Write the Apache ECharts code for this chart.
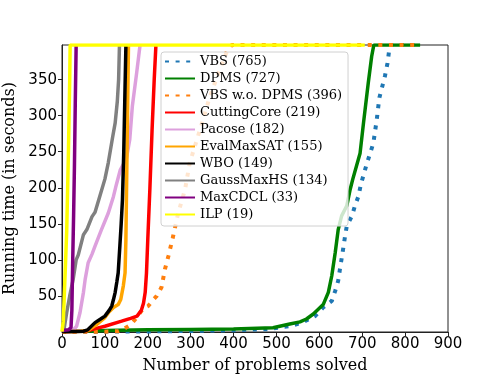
<!DOCTYPE html>
<html>
<head>
<meta charset="utf-8">
<script src="https://cdn.jsdelivr.net/npm/echarts@6/dist/echarts.min.js"></script>
<style>
  html, body { margin: 0; padding: 0; background: #fff; }
  #chart { width: 498px; height: 374px; }
</style>
</head>
<body>
<div id="chart"></div>
<script>
// [problems solved, running time]
const vbs = [[0,0.3],[100,0.5],[250,1],[400,2.5],[480,4],[530,8],[560,13],[590,22],[609,34],[629,43],[637,57],[644,71],[648,87],[652,102],[656,117],[660,133],[664,147],[676,161],[683,175],[691,188],[697,205],[710,232],[726,262],[734,295],[740,325],[753,355],[759,373],[762,387],[765,398],[835,398]]
const dpms = [[0,0.5],[60,1],[100,2],[200,3],[300,3.5],[400,4],[492,6],[531,11],[555,14],[570,18],[586,25],[609,38],[621,55],[629,78],[637,110],[644,142],[652,161],[664,175],[672,198],[678,212],[695,248],[703,290],[714,345],[722,382],[727,398],[835,398]]
const vbsNoDpms = [[0,0.5],[100,0.5],[130,1],[143,4],[160,10],[174,20],[190,33],[201,36],[213,45],[221,50],[232,62],[240,87],[248,105],[258,130],[271,165],[287,198],[298,235],[322,281],[345,327],[368,364],[385,390],[396,398],[835,398]]
const cuttingCore = [[0,0.5],[55,1],[80,5],[100,8],[139,15],[160,19],[175,22],[185,30],[190,40],[194,55],[197,82],[200,128],[205,200],[210,280],[215,350],[219,398]]
const pacose = [[0,0.5],[25,2],[34,8],[42,27],[50,55],[54,73],[61,96],[70,108],[77,119],[92,142],[108,165],[120,188],[127,205],[136,225],[150,240],[158,267],[164,313],[174,359],[182,398]]
const evalMaxSat = [[0,0.5],[45,1],[60,2],[80,10],[100,20],[110,28],[120,34],[131,38],[137,45],[143,64],[147,82],[149,128],[152,267],[155,398]]
const wbo = [[0,0.5],[50,1],[60,3],[77,13],[90,18],[100,22],[110,30],[116,36],[120,45],[124,55],[128,70],[131,82],[135,120],[138,150],[141,184],[144,250],[147,340],[149,398]]
const gaussMaxHs = [[0,1],[5,5],[11,27],[18,50],[26,73],[33,100],[38,107],[50,135],[58,142],[70,160],[77,166],[88,188],[100,212],[108,235],[118,270],[124,290],[129,320],[132,350],[134,398]]
const maxCdcl = [[0,2],[15,3],[21,6],[23,30],[25,100],[27,160],[29,230],[31,320],[33,398]]
const ilp = [[0,0.5],[1,2],[3,15],[6,60],[11,140],[15,250],[18,350],[19,398],[706,398]]

const names = ['VBS (765)', 'DPMS (727)', 'VBS w.o. DPMS (396)', 'CuttingCore (219)', 'Pacose (182)',
  'EvalMaxSAT (155)', 'WBO (149)', 'GaussMaxHS (134)', 'MaxCDCL (33)', 'ILP (19)']
const colors = ['#1f77b4', '#008000', '#ff7f0e', '#ff0000', '#dda0dd', '#ffa500', '#000000', '#808080', '#800080', '#ffff00']
const dotted = [true, false, true, false, false, false, false, false, false, false]
const seriesData = [vbs, dpms, vbsNoDpms, cuttingCore, pacose, evalMaxSat, wbo, gaussMaxHs, maxCdcl, ilp]

const xTicks = { min: 0, max: 900, interval: 100 }
const yTicks = { min: 0, max: 398, interval: 50 }

const chart = echarts.init(document.getElementById('chart'), null, { renderer: 'canvas' })

const series = seriesData.map((d, i) => ({
  name: names[i],
  type: 'line',
  data: d,
  symbol: 'none',
  clip: true,
  animation: false,
  lineStyle: {
    color: colors[i],
    width: dotted[i] ? 4 : 3.5,
    type: dotted[i] ? [4, 6.6] : 'solid',
    cap: 'butt'
  },
  itemStyle: { color: colors[i] }
}))

chart.setOption({
  animation: false,
  grid: {
    left: 62, right: 50, top: 45, bottom: 42,
    containLabel: false, outerBoundsMode: 'none',
    show: true, borderColor: '#222', borderWidth: 1, backgroundColor: 'transparent'
  },
  xAxis: {
    type: 'value', min: xTicks.min, max: xTicks.max, interval: xTicks.interval,
    name: 'Number of problems solved', nameLocation: 'middle', nameGap: 26,
    nameTextStyle: { fontFamily: 'DejaVu Serif', fontSize: 16, color: '#000' },
    axisLine: { show: true, onZero: false, lineStyle: { color: '#222', width: 1 } },
    axisTick: { show: true, inside: false, length: 4, lineStyle: { color: '#222' } },
    axisLabel: { fontFamily: 'DejaVu Sans', fontSize: 15, color: '#000', margin: 5 },
    splitLine: { show: false }
  },
  yAxis: {
    type: 'value', min: yTicks.min, max: yTicks.max, interval: yTicks.interval,
    name: 'Running time (in seconds)', nameLocation: 'middle', nameGap: 38,
    nameTextStyle: { fontFamily: 'DejaVu Serif', fontSize: 16, color: '#000' },
    axisLine: { show: true, onZero: false, lineStyle: { color: '#222', width: 1 } },
    axisTick: { show: true, inside: false, length: 4, lineStyle: { color: '#222' } },
    axisLabel: { fontFamily: 'DejaVu Sans', fontSize: 15, color: '#000', margin: 5, showMinLabel: false, showMaxLabel: false },
    splitLine: { show: false }
  },
  legend: {
    orient: 'vertical', left: 161, top: 52,
    padding: [3, 6, 5, 3], itemGap: 4, itemWidth: 30, itemHeight: 15,
    backgroundColor: 'rgba(255,255,255,0.8)', borderColor: '#d0d0d0', borderWidth: 1, borderRadius: 3,
    textStyle: { fontFamily: 'DejaVu Serif', fontSize: 13, color: '#000' },
    itemStyle: { opacity: 0 },
    data: names
  },
  series
})
</script>
</body>
</html>
